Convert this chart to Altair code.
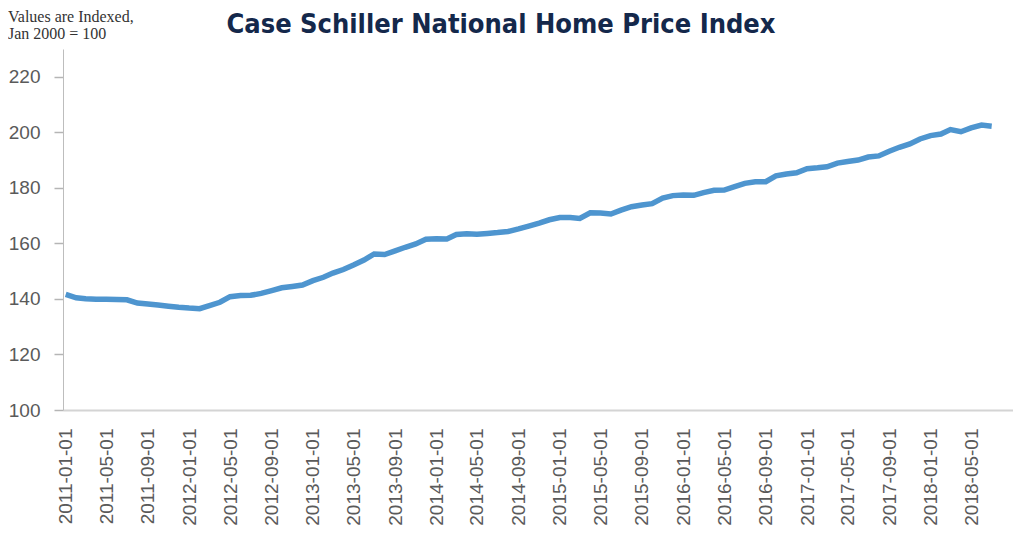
import altair as alt
import pandas as pd

# Monthly observations, 2011-01 .. 2018-07
dates = pd.date_range("2011-01-01", "2018-07-01", freq="MS").strftime("%Y-%m-%d").tolist()

index_values = [
    141.6, 140.4, 140.1, 139.9, 139.9, 139.8, 139.7, 138.5, 138.2, 137.8,
    137.4, 137.0, 136.7, 136.5, 137.6, 138.8, 140.8, 141.2, 141.3, 142.0,
    143.0, 144.0, 144.5, 145.0, 146.6, 147.8, 149.3, 150.6, 152.2, 154.0,
    156.2, 156.0, 157.3, 158.6, 159.8, 161.5, 161.7, 161.6, 163.2, 163.5,
    163.3, 163.6, 163.9, 164.3, 165.2, 166.2, 167.3, 168.5, 169.3, 169.3,
    169.0, 171.0, 170.9, 170.6, 172.0, 173.2, 173.8, 174.3, 176.3, 177.2,
    177.4, 177.3, 178.3, 179.1, 179.2, 180.4, 181.6, 182.2, 182.2, 184.3,
    185.0, 185.4, 186.9, 187.2, 187.6, 188.9, 189.5, 190.0, 191.1, 191.5,
    193.2, 194.6, 195.8, 197.6, 198.8, 199.4, 201.0, 200.2, 201.6, 202.6,
    202.2,
]

tick_years_months = [(2011 + (m // 12), m % 12 + 1) for m in range(0, 89, 4)]

title_text = "Case Schiller National Home Price Index"
note_line1 = "Values are Indexed,"
note_line2 = "Jan 2000 = 100"

df = pd.DataFrame({"date": dates, "value": index_values})

x_axis = alt.Axis(
    values=[alt.DateTime(year=y, month=m, date=1, utc=True) for y, m in tick_years_months],
    format="%Y-%m-%d",
    labelAngle=-90,
    labelFont="Liberation Sans",
    labelFontSize=19,
    labelColor="#5a5a5a",
    labelPadding=18,
    ticks=False,
    tickSize=0,
    grid=False,
    domainColor="#d4d4d4",
    domainWidth=2,
    title=None,
    labelOverlap=False,
)

y_axis = alt.Axis(
    values=[100, 120, 140, 160, 180, 200, 220],
    labelFont="Liberation Sans",
    labelFontSize=19,
    labelColor="#5a5a5a",
    labelPadding=14,
    tickSize=9,
    tickColor="#b5b5b5",
    tickWidth=1.5,
    domainColor="#bdbdbd",
    domainWidth=1,
    grid=False,
    title=None,
)

line = alt.Chart(df).mark_line(color="#4e95cf", strokeWidth=5.5).encode(
    x=alt.X(
        "date:T",
        scale=alt.Scale(
            type="utc",
            domain=[
                alt.DateTime(year=2010, month=12, date=24, utc=True),
                alt.DateTime(year=2018, month=9, date=2, utc=True),
            ],
        ),
        axis=x_axis,
    ),
    y=alt.Y("value:Q", scale=alt.Scale(domain=[100, 230], nice=False, zero=False), axis=y_axis),
)

title_mark = alt.Chart(pd.DataFrame({"t": [title_text]})).mark_text(
    font="DejaVu Sans Condensed",
    fontWeight="bold",
    fontSize=27,
    color="#14284b",
    align="center",
    baseline="alphabetic",
).encode(x=alt.value(438), y=alt.value(-16), text="t:N")

note1 = alt.Chart(pd.DataFrame({"t": [note_line1]})).mark_text(
    font="Liberation Serif",
    fontSize=16,
    color="#333333",
    align="left",
    baseline="alphabetic",
).encode(x=alt.value(-55), y=alt.value(-27), text="t:N")

note2 = alt.Chart(pd.DataFrame({"t": [note_line2]})).mark_text(
    font="Liberation Serif",
    fontSize=16,
    color="#333333",
    align="left",
    baseline="alphabetic",
).encode(x=alt.value(-55), y=alt.value(-10), text="t:N")

chart = alt.layer(line, title_mark, note1, note2).properties(
    width=950,
    height=361,
    padding={"left": 55, "top": 41, "right": 0, "bottom": 135},
    autosize=alt.AutoSizeParams(type="none"),
).configure_view(stroke=None)

chart.save("out.html", embed_options={"renderer": "svg", "actions": False})
